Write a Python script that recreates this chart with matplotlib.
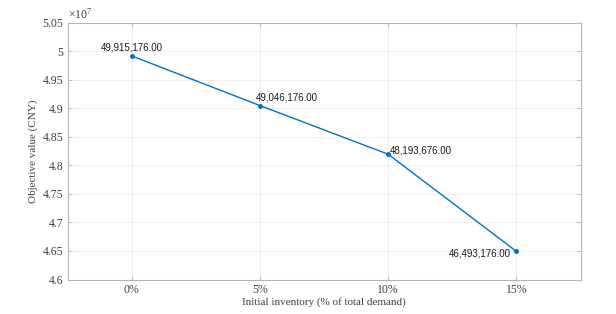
import matplotlib
matplotlib.use("Agg")
import matplotlib.pyplot as plt
from matplotlib.ticker import FixedLocator, FixedFormatter

plt.rcParams["mathtext.fontset"] = "custom"
plt.rcParams["mathtext.rm"] = "Liberation Serif"
plt.rcParams["mathtext.it"] = "Liberation Serif:italic"

categories = ["0%", "5%", "10%", "15%"]
values = [49915176.00, 49046176.00, 48193676.00, 46493176.00]
ytick_vals = [4.6, 4.65, 4.7, 4.75, 4.8, 4.85, 4.9, 4.95, 5.0, 5.05]
ytick_labels = ["4.6", "4.65", "4.7", "4.75", "4.8", "4.85", "4.9", "4.95", "5", "5.05"]

serif = ["Liberation Serif", "DejaVu Serif"]
sans = ["Liberation Sans", "DejaVu Sans"]
txt_col = "#404040"
spine_col = "#b4b4b4"

fig = plt.figure(figsize=(6.16, 3.14), dpi=100)
ax = fig.add_axes([67.5/616, 1 - 279.5/314, (580.5-67.5)/616, (279.5-22.5)/314])

x = list(range(len(categories)))
yv = [v / 1e7 for v in values]
ax.plot(x, yv, color="#0072BD", lw=1.0, marker="o", ms=2.5, zorder=3)

ax.set_xlim(-0.5, 3.5)
ax.set_ylim(4.6, 5.05)
ax.set_xticks(x)
ax.set_xticklabels(categories)
ax.yaxis.set_major_locator(FixedLocator(ytick_vals))
ax.yaxis.set_major_formatter(FixedFormatter(ytick_labels))

ax.grid(True, color="#ededed", lw=0.6)
ax.set_axisbelow(True)
for s in ax.spines.values():
    s.set_color(spine_col)
    s.set_linewidth(0.8)
ax.tick_params(direction="in", length=3, color=spine_col, width=0.6,
               labelsize=8.5, labelcolor=txt_col, top=True, right=True)
ax.tick_params(axis="y", pad=3)
ax.tick_params(axis="x", pad=3)
for lab in ax.get_xticklabels() + ax.get_yticklabels():
    lab.set_fontfamily(serif)

ax.set_xlabel("Initial inventory (% of total demand)", family=serif, fontsize=8, color=txt_col, labelpad=1)
ax.set_ylabel("Objective value (CNY)", family=serif, fontsize=8, color=txt_col, labelpad=3)

ax.text(0.0, 1.005, r"$\times\mathregular{10^{7}}$", transform=ax.transAxes, family=serif,
        fontsize=8.5, color=txt_col, ha="left", va="bottom")

labels = ["{:,.2f}".format(v) for v in values]
offsets = [(0, 2.5, "center", "bottom"), (-3, 2, "left", "bottom"),
           (1, 3, "left", "center"), (-4, -1.5, "right", "center")]
for xi, yi, lab, (dx, dy, ha, va) in zip(x, yv, labels, offsets):
    ax.annotate(lab, (xi, yi), xytext=(dx, dy), textcoords="offset points",
                ha=ha, va=va, family=sans, fontsize=7, color="#1a1a1a")

fig.savefig("out.png", dpi=100)
